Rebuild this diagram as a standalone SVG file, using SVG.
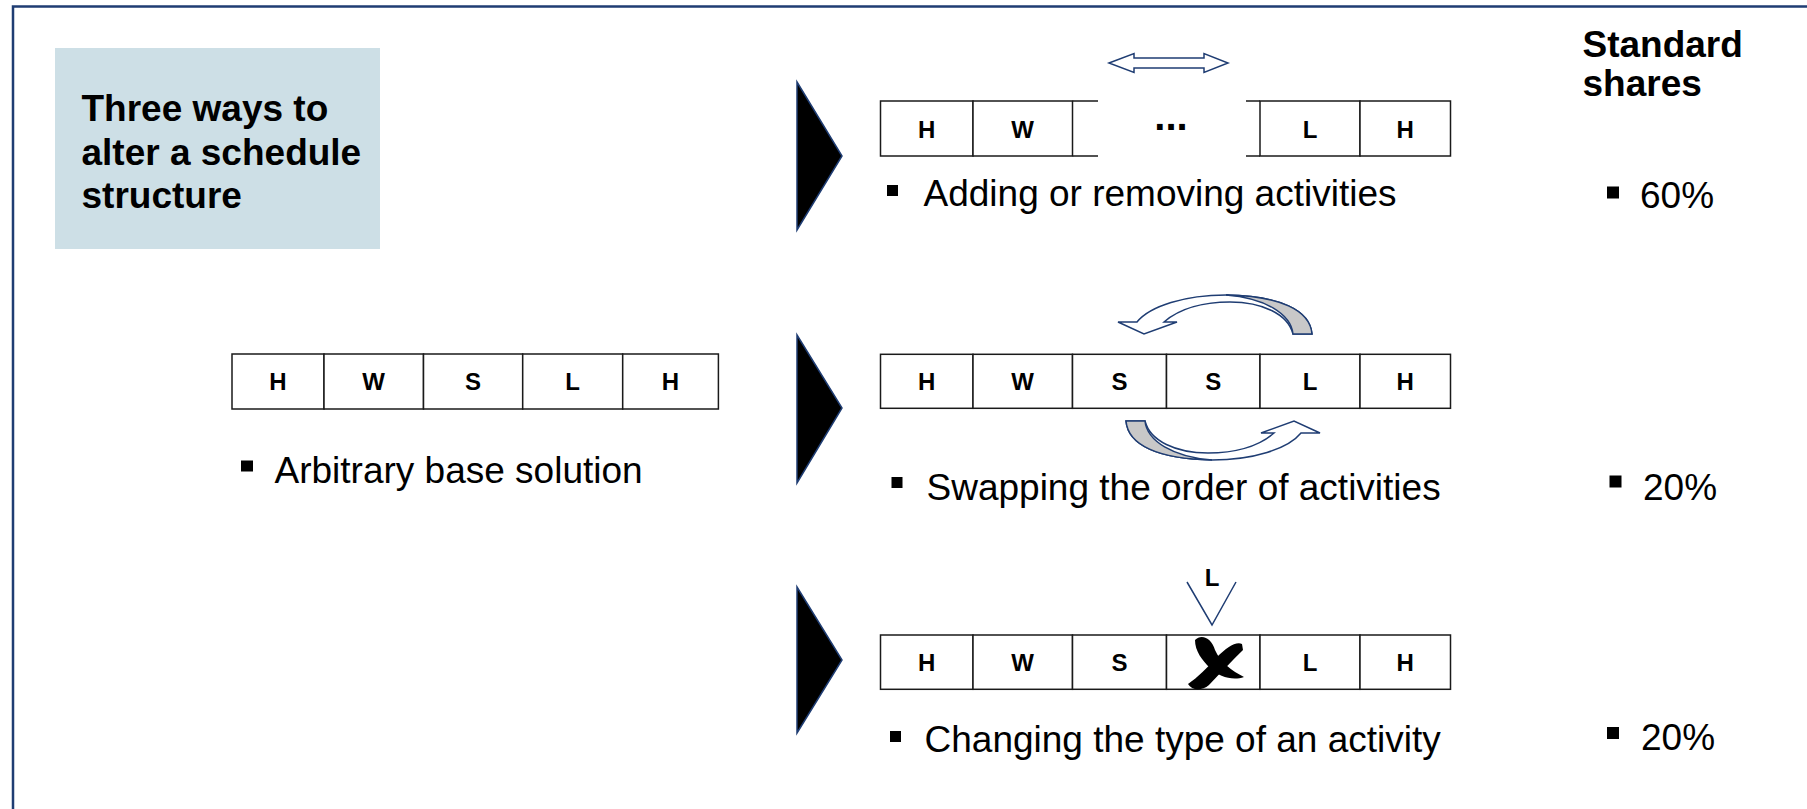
<svg xmlns="http://www.w3.org/2000/svg" width="1807" height="809" viewBox="0 0 1807 809">
  <style>
    .frame { fill: none; stroke: #1f3d73; stroke-width: 2.5; }
    .cell { fill: #ffffff; stroke: #1a1a1a; stroke-width: 1.5; }
    .edge { fill: none; stroke: #1a1a1a; stroke-width: 1.5; }
    .lbl { font-family: "Liberation Sans", Arial, sans-serif; font-weight: bold; font-size: 24px; fill: #000; text-anchor: middle; }
    .dots { font-size: 40px; }
    .title { font-family: "Liberation Sans", Arial, sans-serif; font-weight: bold; font-size: 37px; fill: #000; }
    .body { font-family: "Liberation Sans", Arial, sans-serif; font-size: 37px; fill: #000; }
    .bullet { fill: #000; }
    .chev { fill: #000; stroke: #1f3d73; stroke-width: 1.5; }
    .blk { fill: #ffffff; stroke: #1f3d73; stroke-width: 1.5; stroke-linejoin: miter; }
    .blk-back { fill: #c8c8c8; stroke: #1f3d73; stroke-width: 1.5; }
    .thin { fill: none; stroke: #1f3d73; stroke-width: 1.5; }
  </style>

  <defs>
    <!-- curved block arrow: tail on the right, head bending down on the left -->
    <g id="curved-arrow">
      <path class="blk" d="M1312,334 C1310,310 1280,296 1226,295 C1185,295 1150,306 1137,322 L1118,322 L1144,334 L1177,322 L1164,322 C1180,308 1205,302 1230,302 C1262,302 1288,314 1293,334 Z"/>
      <path class="blk-back" d="M1312,334 C1310,310 1280,296 1226,295 C1265,298 1291,314 1293,334 Z"/>
    </g>
  </defs>

  <!-- page frame -->
  <path class="frame" d="M13,809 V6.5 H1807"/>

  <!-- heading box -->
  <g id="heading">
    <rect x="55" y="48" width="325" height="201" fill="#cddfe6"/>
    <text class="title" x="81.5" y="121">Three ways to</text>
    <text class="title" x="81.5" y="164.5">alter a schedule</text>
    <text class="title" x="81.5" y="208">structure</text>
  </g>

  <!-- column header -->
  <g id="shares-header">
    <text class="title" x="1582.5" y="57">Standard</text>
    <text class="title" x="1582.5" y="96">shares</text>
  </g>

  <!-- base schedule -->
  <g id="base-solution">
    <rect class="cell" x="232" y="354" width="92" height="55"/>
    <rect class="cell" x="324" y="354" width="99.5" height="55"/>
    <rect class="cell" x="423.5" y="354" width="99.2" height="55"/>
    <rect class="cell" x="522.7" y="354" width="100" height="55"/>
    <rect class="cell" x="622.7" y="354" width="95.7" height="55"/>
    <text class="lbl" x="278" y="390">H</text>
    <text class="lbl" x="373.7" y="390">W</text>
    <text class="lbl" x="473.1" y="390">S</text>
    <text class="lbl" x="572.7" y="390">L</text>
    <text class="lbl" x="670.5" y="390">H</text>
    <rect class="bullet" x="241" y="460.5" width="12" height="11"/>
    <text class="body" x="274.5" y="482.5">Arbitrary base solution</text>
  </g>

  <!-- operator markers -->
  <g id="markers">
    <polygon class="chev" points="797,82 842,156 797,230"/>
    <polygon class="chev" points="797,335 842,408 797,483"/>
    <polygon class="chev" points="797,587 842,660 797,733"/>
  </g>

  <!-- row 1: adding or removing activities -->
  <g id="op-add">
    <rect class="cell" x="880.5" y="101" width="92.5" height="55"/>
    <rect class="cell" x="973" y="101" width="99.5" height="55"/>
    <path class="edge" d="M1072.5,101 H1098 M1072.5,156 H1098 M1246,101 H1260 M1246,156 H1260"/>
    <rect class="cell" x="1260" y="101" width="100" height="55"/>
    <rect class="cell" x="1360" y="101" width="90.5" height="55"/>
    <text class="lbl" x="926.7" y="137.5">H</text>
    <text class="lbl" x="1022.7" y="137.5">W</text>
    <text class="lbl dots" x="1171" y="130">...</text>
    <text class="lbl" x="1310" y="137.5">L</text>
    <text class="lbl" x="1405.2" y="137.5">H</text>
    <polygon class="blk" points="1109,63 1134,53.5 1134,58 1204,58 1204,53.5 1228,63 1204,72.5 1204,68 1134,68 1134,72.5"/>
    <rect class="bullet" x="887" y="185" width="11" height="11"/>
    <text class="body" x="923.5" y="206">Adding or removing activities</text>
  </g>

  <!-- row 2: swapping the order -->
  <g id="op-swap">
    <rect class="cell" x="880.5" y="354.3" width="92.5" height="54"/>
    <rect class="cell" x="973" y="354.3" width="99.5" height="54"/>
    <rect class="cell" x="1072.5" y="354.3" width="94" height="54"/>
    <rect class="cell" x="1166.5" y="354.3" width="93.5" height="54"/>
    <rect class="cell" x="1260" y="354.3" width="100" height="54"/>
    <rect class="cell" x="1360" y="354.3" width="90.5" height="54"/>
    <text class="lbl" x="926.7" y="390">H</text>
    <text class="lbl" x="1022.7" y="390">W</text>
    <text class="lbl" x="1119.5" y="390">S</text>
    <text class="lbl" x="1213.2" y="390">S</text>
    <text class="lbl" x="1310" y="390">L</text>
    <text class="lbl" x="1405.2" y="390">H</text>
    <rect class="bullet" x="891.5" y="477" width="11" height="11"/>
    <text class="body" x="926.5" y="499.5">Swapping the order of activities</text>
  </g>

  <!-- row 3: changing an activity type -->
  <g id="op-change">
    <rect class="cell" x="880.5" y="635" width="92.5" height="54.3"/>
    <rect class="cell" x="973" y="635" width="99.5" height="54.3"/>
    <rect class="cell" x="1072.5" y="635" width="94" height="54.3"/>
    <rect class="cell" x="1166.5" y="635" width="93.5" height="54.3"/>
    <rect class="cell" x="1260" y="635" width="100" height="54.3"/>
    <rect class="cell" x="1360" y="635" width="90.5" height="54.3"/>
    <text class="lbl" x="926.7" y="671">H</text>
    <text class="lbl" x="1022.7" y="671">W</text>
    <text class="lbl" x="1119.5" y="671">S</text>
    <text class="lbl" x="1310" y="671">L</text>
    <text class="lbl" x="1405.2" y="671">H</text>
    <!-- cross-out mark -->
    <path fill="#000" d="M1195,640 C1202,633 1212,639 1215,650 C1220,662 1232,671 1244,677 C1233,681 1219,677 1210,668 C1202,660 1195,651 1195,640 Z"/>
    <path fill="#000" d="M1242,644 C1236,641 1226,648 1217,657 C1207,668 1198,677 1188,684 C1192,691 1202,691 1209,685 C1221,672 1233,660 1243,650 Z"/>
    <text class="lbl" x="1212" y="586">L</text>
    <path class="thin" d="M1187,582 L1212,625 L1236,582"/>
    <rect class="bullet" x="890" y="731" width="11" height="11"/>
    <text class="body" x="924.5" y="752">Changing the type of an activity</text>
  </g>

  <!-- swap arrows -->
  <g id="connectors">
    <use href="#curved-arrow"/>
    <use href="#curved-arrow" transform="rotate(180 1219 377.5)"/>
  </g>

  <!-- shares -->
  <g id="shares">
    <rect class="bullet" x="1607" y="186.5" width="12" height="12"/>
    <text class="body" x="1640" y="208">60%</text>
    <rect class="bullet" x="1609.5" y="475.5" width="12" height="12"/>
    <text class="body" x="1643" y="499.5">20%</text>
    <rect class="bullet" x="1607" y="727" width="12" height="12"/>
    <text class="body" x="1641" y="750">20%</text>
  </g>
</svg>
